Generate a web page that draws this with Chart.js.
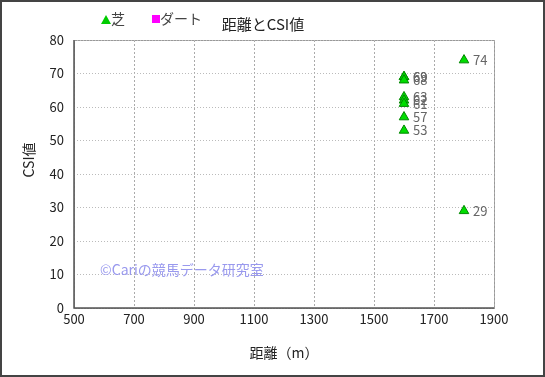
<!DOCTYPE html>
<html>
<head>
<meta charset="utf-8">
<script src="https://cdn.jsdelivr.net/npm/chart.js@4.4.1/dist/chart.umd.min.js"></script>
<style>
  html, body { margin: 0; padding: 0; background: #fff; }
  #wrap { width: 545px; height: 377px; }
</style>
</head>
<body>
<div id="wrap"><canvas id="chart" width="545" height="377"></canvas></div>
<script>
const titleText = '距離とCSI値';
const xTitle = '距離（m）';
const yTitle = 'CSI値';
const watermark = '©Cariの競馬データ研究室';

const turfDistance = [1600, 1600, 1600, 1600, 1600, 1600, 1600, 1600, 1800, 1800];
const turfCsi      = [69, 69, 68, 63, 62, 61, 57, 53, 74, 29];
const dirtDistance = [];
const dirtCsi      = [];

const font = '"Noto Sans CJK JP", "DejaVu Sans", sans-serif';

const toPoints = (xs, ys) => xs.map((x, i) => ({ x: x, y: ys[i] }));

const decorPlugin = {
    id: 'decor',
    beforeDraw(chart) {
        const ctx = chart.ctx;
        const a = chart.chartArea;
        ctx.save();
        ctx.fillStyle = '#fff';
        ctx.fillRect(0, 0, chart.width, chart.height);
        ctx.strokeStyle = '#999';
        ctx.lineWidth = 1;
        ctx.strokeRect(a.left + 0.5, a.top + 0.5, a.right - a.left, a.bottom - a.top);
        ctx.restore();
    },
    afterDraw(chart) {
        const ctx = chart.ctx;
        const a = chart.chartArea;
        const xs = chart.scales.x, ys = chart.scales.y;
        ctx.save();
        // frame
        ctx.strokeStyle = '#444';
        ctx.lineWidth = 2;
        ctx.strokeRect(1, 1, chart.width - 2, chart.height - 2);

        // axis lines
        ctx.strokeStyle = '#555';
        ctx.lineWidth = 1.5;
        ctx.beginPath();
        ctx.moveTo(a.left, a.top);
        ctx.lineTo(a.left, a.bottom);
        ctx.lineTo(a.right, a.bottom);
        ctx.stroke();

        // title
        ctx.fillStyle = '#222';
        ctx.font = '15px ' + font;
        ctx.textAlign = 'center';
        ctx.textBaseline = 'middle';
        ctx.fillText(titleText, 263, 24);

        // y title
        ctx.save();
        ctx.translate(29, 160);
        ctx.rotate(-Math.PI / 2);
        ctx.font = '14px ' + font;
        ctx.fillText(yTitle, 0, 0);
        ctx.restore();

        // legend
        ctx.font = '14px ' + font;
        ctx.textAlign = 'left';
        ctx.fillStyle = '#00cc00';
        ctx.beginPath();
        ctx.moveTo(101, 24);
        ctx.lineTo(106, 15);
        ctx.lineTo(111, 24);
        ctx.closePath();
        ctx.fill();
        ctx.fillStyle = '#444';
        ctx.fillText(chart.data.datasets[0].label, 111, 19);
        ctx.fillStyle = '#ff00ff';
        ctx.fillRect(152, 15, 8, 8);
        ctx.fillStyle = '#444';
        ctx.fillText(chart.data.datasets[1].label, 160, 19);

        // point value labels
        ctx.font = '13px ' + font;
        ctx.fillStyle = '#666';
        ctx.textBaseline = 'middle';
        chart.data.datasets.forEach((ds, di) => {
            const meta = chart.getDatasetMeta(di);
            meta.data.forEach((pt, i) => {
                ctx.fillText(String(ds.data[i].y), pt.x + 9, pt.y);
            });
        });

        // watermark
        ctx.font = '14px ' + font;
        ctx.fillStyle = '#9999ee';
        ctx.fillText(watermark, xs.getPixelForValue(587), ys.getPixelForValue(11.3));
        ctx.restore();
    }
};

new Chart(document.getElementById('chart'), {
    type: 'scatter',
    data: {
        datasets: [{
            label: '芝',
            data: toPoints(turfDistance, turfCsi),
            pointStyle: 'triangle',
            radius: 5.5,
            backgroundColor: '#00dd00',
            borderColor: '#008800',
            borderWidth: 1
        }, {
            label: 'ダート',
            data: toPoints(dirtDistance, dirtCsi),
            pointStyle: 'rect',
            radius: 4,
            backgroundColor: '#ff00ff',
            borderColor: '#ff00ff'
        }]
    },
    options: {
        responsive: false,
        animation: false,
        layout: { padding: { left: 12, right: 51, top: 40, bottom: 12 } },
        plugins: {
            legend: { display: false },
            title: { display: false },
            tooltip: { enabled: false }
        },
        scales: {
            x: {
                type: 'linear',
                min: 500,
                max: 1900,
                ticks: { stepSize: 200, color: '#222', font: { family: font, size: 13 }, padding: 3,
                         callback: v => String(v) },
                grid: { color: '#aaa', drawTicks: false, tickLength: 0 },
                border: { display: false, dash: [2, 2] },
                title: { display: true, text: xTitle, color: '#222', font: { family: font, size: 14 }, padding: { top: 8 } },
                afterFit(scale) { scale.height = 57; }
            },
            y: {
                min: 0,
                max: 80,
                ticks: { stepSize: 10, color: '#222', font: { family: font, size: 13 }, padding: 10 },
                grid: { color: '#bbb', drawTicks: false, tickLength: 0 },
                border: { display: false, dash: [1, 2] },
                title: { display: false },
                afterFit(scale) { scale.width = 62; }
            }
        }
    },
    plugins: [decorPlugin]
});
</script>
</body>
</html>
